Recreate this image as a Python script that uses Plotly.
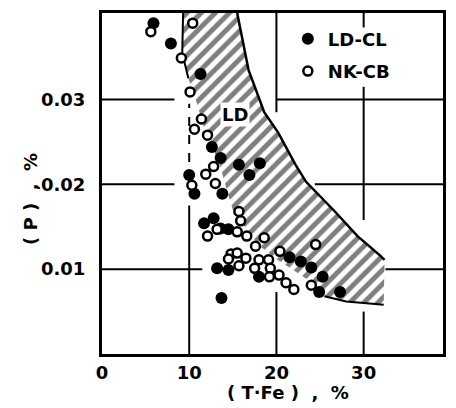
import plotly.graph_objects as go

# ---- data ----
ld_cl_fe = [5.9, 7.9, 11.3, 12.6, 13.6, 10.0, 10.6, 13.8, 15.7, 18.1, 16.9, 11.7, 12.8,
            13.6, 14.5, 13.2, 14.5, 13.7, 18.0, 21.5, 22.8, 24.0, 25.3, 24.9, 27.3]
ld_cl_p = [0.0390, 0.0366, 0.0330, 0.0244, 0.0231, 0.0211, 0.0189, 0.0189, 0.0223, 0.0225,
           0.0211, 0.0154, 0.0160, 0.0148, 0.0147, 0.0101, 0.0099, 0.0066, 0.0091, 0.0114,
           0.0109, 0.0102, 0.0091, 0.0073, 0.0073]

nk_cb_fe = [5.6, 10.4, 9.1, 10.1, 11.4, 10.6, 12.1, 12.8, 11.9, 10.3, 13.0, 15.7, 15.9,
            12.1, 13.2, 15.5, 16.6, 18.6, 17.6, 14.8, 15.5, 16.5, 14.5, 15.7, 18.0, 19.1,
            17.5, 19.3, 20.4, 19.2, 20.3, 21.1, 22.0, 24.0, 24.5]
nk_cb_p = [0.0380, 0.0390, 0.0349, 0.0309, 0.0277, 0.0265, 0.0258, 0.0221, 0.0212, 0.0199,
           0.0201, 0.0168, 0.0157, 0.0139, 0.0147, 0.0144, 0.0139, 0.0137, 0.0127, 0.0118,
           0.0119, 0.0113, 0.0112, 0.0104, 0.0111, 0.0111, 0.0101, 0.0101, 0.0121, 0.0091,
           0.0093, 0.0084, 0.0076, 0.0081, 0.0129]

# LD region (hatched band) boundaries
band_upper_fe = [15.5, 16.8, 18.6, 20.2, 22.2, 23.4, 26.7, 29.3, 31.9, 32.4]
band_upper_p = [0.0402, 0.0335, 0.0285, 0.0261, 0.0223, 0.0203, 0.0168, 0.0139, 0.0116, 0.0111]
band_left_fe = [9.3, 9.2, 9.9, 10.9, 11.6, 12.4, 13.6, 14.4, 15.0, 16.5, 18.0, 20.0, 22.0, 24.0]
band_left_p = [0.0402, 0.0355, 0.0325, 0.0295, 0.0270, 0.0250, 0.0220, 0.0190, 0.0170,
               0.0148, 0.0128, 0.0112, 0.0098, 0.0085]
band_lower_fe = [25.5, 28.0, 30.0, 32.3]
band_lower_p = [0.0068, 0.0062, 0.0060, 0.0058]

x_ticks = [0, 10, 20, 30]
x_tick_labels = ["0", "10", "20", "30"]
y_ticks = [0.01, 0.02, 0.03]
y_tick_labels = ["0.01", "0.02", "0.03"]

FONT = "DejaVu Sans"

fig = go.Figure()

poly_x = band_left_fe + band_lower_fe + band_upper_fe[::-1]
poly_y = band_left_p + band_lower_p + band_upper_p[::-1]
fig.add_trace(go.Scatter(
    x=poly_x, y=poly_y, mode="lines", fill="toself", line=dict(width=0),
    fillcolor="rgba(0,0,0,0)",
    fillpattern=dict(shape="/", fgcolor="black", bgcolor="white", size=10, solidity=0.5),
    showlegend=False, hoverinfo="skip"))
fig.add_trace(go.Scatter(x=band_upper_fe, y=band_upper_p, mode="lines",
                         line=dict(color="black", width=2.5), showlegend=False))
fig.add_trace(go.Scatter(x=band_lower_fe, y=band_lower_p, mode="lines",
                         line=dict(color="black", width=2), showlegend=False))
fig.add_trace(go.Scatter(x=band_left_fe[:3], y=band_left_p[:3], mode="lines",
                         line=dict(color="black", width=2), showlegend=False))

fig.add_trace(go.Scatter(
    x=ld_cl_fe, y=ld_cl_p, mode="markers", name="LD-CL", legendgroup="a",
    marker=dict(symbol="circle", size=12, color="black", line=dict(width=0))))
fig.add_trace(go.Scatter(
    x=nk_cb_fe, y=nk_cb_p, mode="markers", name="NK-CB", legendgroup="b",
    marker=dict(symbol="circle", size=9, color="white", line=dict(width=2.5, color="black"))))

# partial grid segments (decoration)
grid_h = [(0.03, 0, 8.3), (0.03, 20, 39.1), (0.02, 0, 8.3), (0.02, 24.4, 39.1),
          (0.01, 0, 11.5), (0.01, 32.5, 39.1)]
grid_v = [(10, 0, 0.0175, "solid"), (10, 0.0205, 0.0295, "dash"), (20, 0.0285, 0.0402, "solid"),
          (20, 0, 0.0073, "solid"), (30, 0.0158, 0.0315, "solid"), (30, 0, 0.0050, "solid"),
          (30, 0.0385, 0.0402, "solid")]
shapes = []
for y, x0, x1 in grid_h:
    shapes.append(dict(type="line", xref="x", yref="y", x0=x0, x1=x1, y0=y, y1=y,
                       line=dict(color="black", width=2), layer="below"))
for x, y0, y1, d in grid_v:
    shapes.append(dict(type="line", xref="x", yref="y", x0=x, x1=x, y0=y0, y1=y1,
                       line=dict(color="black", width=2, dash=d), layer="below"))

pw, ph = 456 - 102 - 10, 408 - 10 - 54


def px2paper(px, py):
    return (px - 102) / pw, (408 - 54 - py) / ph


xt_x, xt_y = px2paper(290, 393)
yt_x, yt_y = px2paper(30, 198)

fig.update_layout(
    width=456, height=408,
    margin=dict(l=102, r=10, t=10, b=54),
    paper_bgcolor="white", plot_bgcolor="white",
    font=dict(family=FONT, size=18, color="black", weight="bold"),
    shapes=shapes,
    showlegend=True,
    legend=dict(x=0.545, y=0.978, xanchor="left", yanchor="top", bgcolor="rgba(0,0,0,0)",
                font=dict(family=FONT, size=18, color="black", weight="bold"),
                tracegroupgap=6, traceorder="grouped", itemwidth=30),
    xaxis=dict(range=[0, 39.1], tickvals=x_ticks, ticktext=x_tick_labels, showgrid=False,
               zeroline=False, showline=True, mirror=True, linewidth=3, linecolor="black",
               ticks="", ticklabelstandoff=0),
    yaxis=dict(range=[0, 0.0402], tickvals=y_ticks, ticktext=y_tick_labels, showgrid=False,
               zeroline=False, showline=True, mirror=True, linewidth=3, linecolor="black",
               ticks="", ticklabelstandoff=10),
    annotations=[
        dict(text="LD", x=15.3, y=0.0282, xref="x", yref="y", showarrow=False,
             bgcolor="white", font=dict(family=FONT, size=18, weight="bold")),
        dict(text="( T·Fe )  ,  %", x=xt_x, y=xt_y, xref="paper", yref="paper",
             xanchor="center", yanchor="middle", showarrow=False,
             font=dict(family=FONT, size=18, weight="bold")),
        dict(text="( P )  ,  %", x=yt_x, y=yt_y, xref="paper", yref="paper",
             xanchor="center", yanchor="middle", showarrow=False,
             textangle=-90, font=dict(family=FONT, size=18, weight="bold")),
    ],
)

fig.write_html("out.html", config={"displayModeBar": False},
               post_script="document.body.style.margin='0';")
